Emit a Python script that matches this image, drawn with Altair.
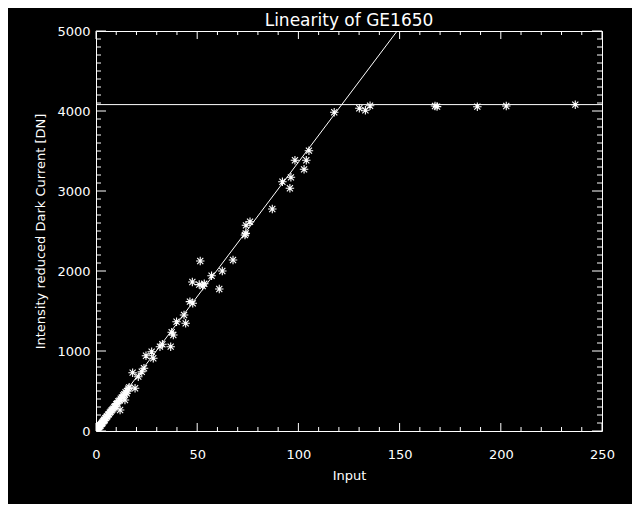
import altair as alt
import pandas as pd

# ---- data ----
x_input = [
    117.7, 130.1, 133.1, 135.4, 167.5, 168.5, 188.4, 202.7, 236.8,
    105.2, 98.3, 103.9, 102.8, 96.3, 92.1, 95.8, 87.1,
    76.1, 74.1, 73.6, 74.0, 67.7, 51.5, 62.4, 57.1, 47.6, 52.7, 51.0, 53.5,
    60.9, 46.4, 47.8, 43.5, 39.8, 44.3, 37.4, 38.2, 32.8, 31.6, 36.9,
    27.5, 24.7, 28.3, 22.6, 18.1, 23.7, 20.9, 16.4, 19.3, 15.2, 14.3, 11.9,
    0.3, 0.5, 0.8, 1.0, 1.2, 1.5, 1.8, 2.0, 2.2, 2.5, 2.8, 3.0, 3.2, 3.5,
    3.8, 4.0, 4.3, 4.6, 5.0, 5.3, 5.6, 6.0, 6.4, 6.8, 7.2, 7.6, 8.0, 8.5,
    9.0, 9.5, 10.0, 10.5, 11.0, 11.6, 12.2, 12.8, 13.4, 14.0, 14.6, 15.3, 16.0,
]
y_dn = [
    3984, 4034, 4009, 4066, 4063, 4055, 4054, 4063, 4079,
    3504, 3384, 3384, 3271, 3171, 3116, 3034, 2775,
    2616, 2571, 2450, 2470, 2138, 2125, 2000, 1941, 1863, 1813, 1830, 1840,
    1775, 1617, 1596, 1450, 1366, 1346, 1234, 1200, 1084, 1054, 1054,
    991, 941, 909, 741, 729, 784, 679, 546, 534, 471, 388, 263,
    5, 15, 22, 30, 45, 48, 60, 70, 65, 85, 90, 105, 100, 120,
    125, 140, 135, 160, 165, 180, 185, 205, 210, 230, 240, 255, 265, 280,
    300, 310, 335, 345, 370, 380, 405, 420, 445, 460, 485, 500, 530,
]

fit_x = [0, 148.8]
fit_y = [0, 5000]
saturation_level = [4080]

x_major = [0, 50, 100, 150, 200, 250]
x_minor = [10, 20, 30, 40, 60, 70, 80, 90, 110, 120, 130, 140,
           160, 170, 180, 190, 210, 220, 230, 240]
y_major = [0, 1000, 2000, 3000, 4000, 5000]
y_minor = [v for v in range(0, 5001, 100) if v % 1000 != 0]

W, H = 506, 400
FONT = "DejaVu Sans"
ASTERISK = "M-1,0L1,0M0,-1L0,1M-0.72,-0.72L0.72,0.72M-0.72,0.72L0.72,-0.72"

xscale = alt.Scale(domain=[0, 250], nice=False, zero=False)
yscale = alt.Scale(domain=[0, 5000], nice=False, zero=False)

x_axis = alt.Axis(values=x_major, format="d", labelFlush=False,
                  domain=False, ticks=False, grid=False,
                  labelPadding=17, titlePadding=8)
y_axis = alt.Axis(values=y_major, format="d", labelFlush=False,
                  domain=False, ticks=False, grid=False,
                  labelPadding=6, titlePadding=9)
X_TITLE = "Input"
Y_TITLE = "Intensity reduced Dark Current [DN]"


def X(field="x"):
    return alt.X(f"{field}:Q", scale=xscale, axis=x_axis, title=X_TITLE)


def Y(field="y"):
    return alt.Y(f"{field}:Q", scale=yscale, axis=y_axis, title=Y_TITLE)


points = pd.DataFrame({"x": x_input, "y": y_dn})

scatter = alt.Chart(points).mark_point(
    shape=ASTERISK, filled=False, stroke="white", strokeWidth=1.1,
    size=72, opacity=1, clip=True
).encode(x=X(), y=Y())

fit = alt.Chart(pd.DataFrame({"x": fit_x, "y": fit_y})).mark_line(
    color="white", strokeWidth=1, clip=True
).encode(x=X(), y=Y())

sat = alt.Chart(pd.DataFrame({"y": saturation_level})).mark_rule(
    color="white", strokeWidth=1
).encode(y=Y())


def xticks(vals, length):
    df = pd.DataFrame({"x": vals})
    bottom = alt.Chart(df).mark_rule(color="white", strokeWidth=1).encode(
        x=X(), y=alt.value(H), y2=alt.value(H - length))
    top = alt.Chart(df).mark_rule(color="white", strokeWidth=1).encode(
        x=X(), y=alt.value(0), y2=alt.value(length))
    return [bottom, top]


def yticks(vals, length):
    df = pd.DataFrame({"y": vals})
    left = alt.Chart(df).mark_rule(color="white", strokeWidth=1).encode(
        y=Y(), x=alt.value(0), x2=alt.value(length))
    right = alt.Chart(df).mark_rule(color="white", strokeWidth=1).encode(
        y=Y(), x=alt.value(W), x2=alt.value(W - length))
    return [left, right]


layers = [scatter, fit, sat] + xticks(x_major, 8) + xticks(x_minor, 4) \
    + yticks(y_major, 10) + yticks(y_minor, 5)

chart = alt.layer(*layers).properties(
    width=W, height=H,
    title=alt.TitleParams("Linearity of GE1650", color="white", font=FONT,
                          fontSize=17, fontWeight="normal", anchor="middle",
                          offset=-5),
    autosize=alt.AutoSizeParams(type="none"),
    padding={"left": 88, "top": 23, "right": 30, "bottom": 73},
    background="black",
).configure_view(
    stroke="white", strokeWidth=1
).configure_axis(
    labelColor="white", titleColor="white", labelFont=FONT, titleFont=FONT,
    labelFontSize=13, titleFontSize=13, titleFontWeight="normal",
)

chart.save("out.html", embed_options={"renderer": "svg", "actions": False})
